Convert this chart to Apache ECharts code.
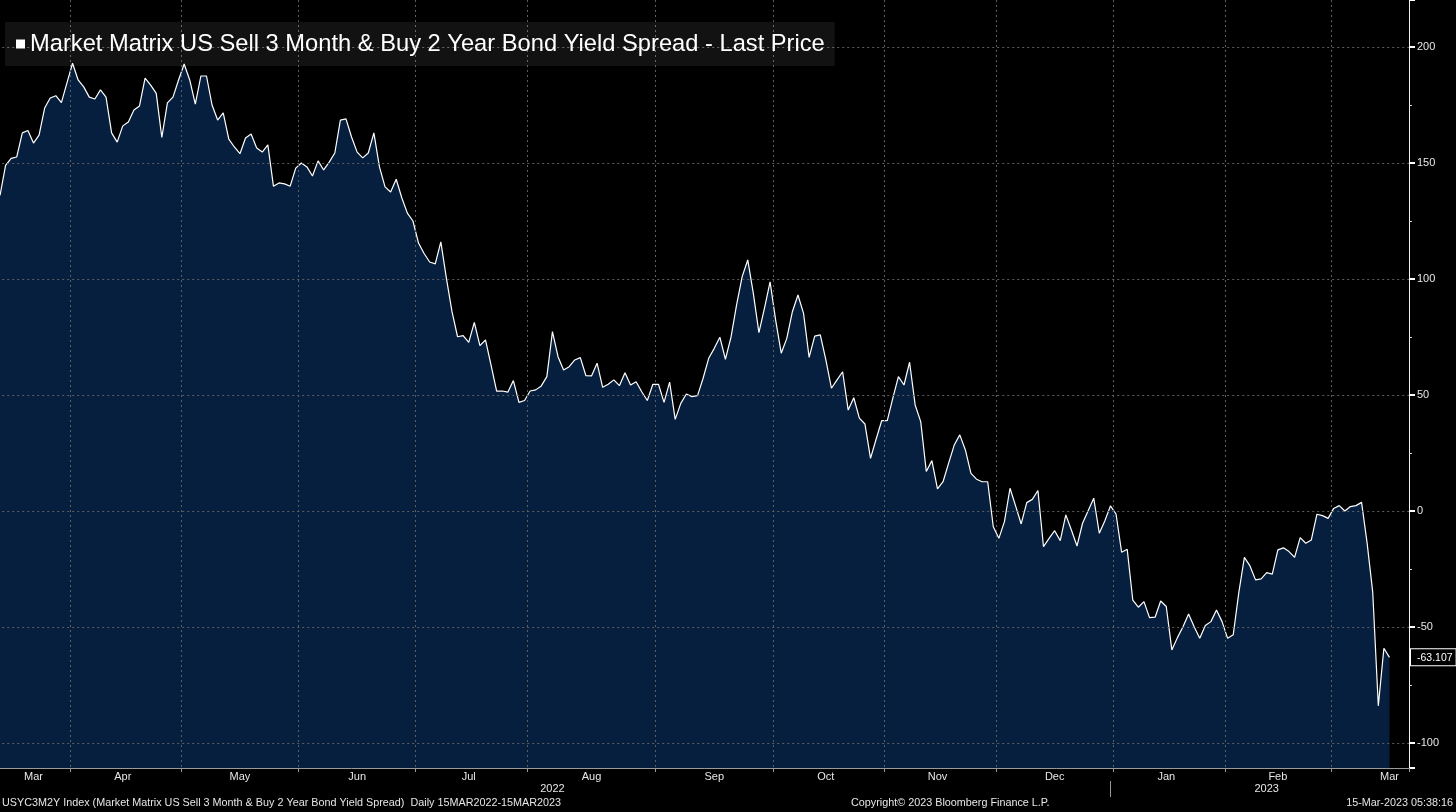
<!DOCTYPE html>
<html><head><meta charset="utf-8">
<script src="https://cdn.jsdelivr.net/npm/echarts@6/dist/echarts.min.js"></script>
<style>html,body{margin:0;padding:0;background:#000;}#c{width:1456px;height:812px;}</style>
</head><body><div id="c"></div>
<script>
const seriesName = 'Market Matrix US Sell 3 Month & Buy 2 Year Bond Yield Spread - Last Price';
const footerLeft = 'USYC3M2Y Index (Market Matrix US Sell 3 Month & Buy 2 Year Bond Yield Spread)  Daily 15MAR2022-15MAR2023';
const footerMid = 'Copyright\u00A9 2023 Bloomberg Finance L.P.';
const footerRight = '15-Mar-2023 05:38:16';

const firstDate = '2022-03-15';
const lastAxisDate = '2023-03-20';
const holidays = ['2022-04-15','2022-05-30','2022-06-20','2022-07-04','2022-09-05','2022-10-10',
  '2022-11-11','2022-11-24','2022-12-26','2023-01-02','2023-01-16','2023-02-20'];

// one value per trading day, 15 Mar 2022 .. 15 Mar 2023 (bp)
const spreadValues = [
  136,149,152,152.6,163,164,158.6,162,173.7,178,
  179,176,184.5,193,185.8,182.8,178.4,177.6,181.5,178.4,
  163,159,166,167.7,172.8,174.6,186.6,183.6,180,161,
  175.9,178.4,185.8,192.7,185.8,175.4,187.5,187.5,175,168.5,
  171.6,160.3,156.9,154,160.8,162.5,156.5,154.7,157.8,140,
  141.4,141,140,147.8,150,148.3,144.4,150.9,147,150.4,
  154.3,168.5,169,161.2,154.7,152.2,154.3,163,148.3,139.7,
  137.5,143,135,128.4,125,115.5,111,107.3,106.5,116,
  100.3,85.9,75.1,75.6,72.7,81.3,71.3,73.7,62.9,51.7,
  51.7,51.2,56.2,46.8,47.6,51.7,52.2,53.9,57.9,77.3,
  66.5,60.8,62.2,65.1,66.1,58.3,58.2,63.7,53.3,54.6,
  56.5,54,59.6,54.3,55.7,51.4,47.6,54.6,54.6,46.8,
  55.5,39.5,46.4,50.4,49.3,49.7,57.2,65.8,70.1,74.9,
  65.4,74.9,88.8,101,108.2,93.8,76.9,87.4,98.8,82.3,
  68,74.4,85.9,93.1,85.2,66.2,75.4,75.9,65.1,52.9,
  56.5,60,43.5,48.8,40,37.5,22.7,30.9,38.9,38.9,
  48.6,57.9,54.3,64.1,45.7,38.5,17,21.7,9.5,12.6,
  20.6,28.4,32.8,26.3,16.2,13.7,12.6,12.6,-6.8,-11.8,
  -4.6,9.8,2.2,-5.6,3.6,5,8.8,-15.4,-11.8,-8.5,
  -12.8,-1.7,-8.2,-15.1,-5.3,0.1,5.5,-9.6,-4.2,2.2,
  -1.3,-17.8,-16.5,-38.4,-41.5,-39.1,-46,-45.8,-38.8,-41.2,
  -59.9,-54.6,-49.9,-44.4,-49.9,-54.9,-49.4,-47.7,-42.7,-47.7,
  -54.9,-53.4,-35.2,-20,-23.7,-29.7,-29.3,-26.6,-27.2,-16.8,
  -15.9,-17.5,-20,-11.5,-13.9,-12.5,-1.4,-2,-3.2,1.1,
  2.3,0,1.9,2.3,3.7,-14,-35,-84,-59.2,-63.107
];

const monthNames = ['Jan','Feb','Mar','Apr','May','Jun','Jul','Aug','Sep','Oct','Nov','Dec'];
const monthLabelDates = ['2022-03-23','2022-04-14','2022-05-16','2022-06-15','2022-07-15','2022-08-16',
  '2022-09-16','2022-10-17','2022-11-15','2022-12-15','2023-01-17','2023-02-14','2023-03-15'];
const yearLabelDates = ['2022-08-05','2023-02-10'];
const yearSeparatorDate = '2022-12-30';

const yMin = -110.8, yMax = 220.26, yStep = 50;

// trading-day categories
function iso(d){ return d.toISOString().slice(0,10); }
const tradingDays = [];
for (let d = new Date(firstDate + 'T00:00:00Z'); iso(d) <= lastAxisDate; d.setUTCDate(d.getUTCDate() + 1)) {
  const wd = d.getUTCDay();
  const s = iso(d);
  if (wd !== 0 && wd !== 6 && holidays.indexOf(s) < 0) tradingDays.push(s);
}
const band = 1409 / (tradingDays.length - 0.5);
const lastValue = spreadValues[spreadValues.length - 1];

const font = "'Liberation Sans', Arial, sans-serif";
const footStyle = {color: '#e6e6e6', fontSize: 10.8, fontWeight: 'normal', fontFamily: font};
const chart = echarts.init(document.getElementById('c'), null, {renderer: 'canvas'});
chart.setOption({
  backgroundColor: '#000',
  animation: false,
  textStyle: {fontFamily: font},
  title: [
    {text: footerLeft, left: 2, top: 798, padding: 0, textStyle: footStyle},
    {text: footerMid, left: 851, top: 798, padding: 0, textStyle: footStyle},
    {text: footerRight, right: 3, top: 798, padding: 0, textStyle: footStyle}
  ],
  legend: {
    show: true, left: 5, top: 22, orient: 'horizontal',
    backgroundColor: 'rgba(255,255,255,0.07)',
    padding: [10, 10, 10, 11],
    itemWidth: 9, itemHeight: 9,
    selectedMode: false,
    textStyle: {color: '#ffffff', fontSize: 23.7, fontFamily: font},
    data: [{name: seriesName, icon: 'rect', itemStyle: {color: '#ffffff'}}]
  },
  axisPointer: {triggerOn: 'none', triggerTooltip: false},
  grid: {left: -band / 2, right: 47, top: 0, bottom: 44, containLabel: false, outerBoundsMode: 'none'},
  xAxis: [{
    type: 'category', data: tradingDays, boundaryGap: true, z: 3,
    axisLine: {show: true, onZero: false, lineStyle: {color: '#9a9a9a', width: 1}},
    axisTick: {show: true, length: 4, lineStyle: {color: '#9a9a9a'},
      interval: (i, v) => i > 0 && v.slice(0,7) !== tradingDays[i-1].slice(0,7)},
    splitLine: {show: true, lineStyle: {color: '#5e5e5e', width: 1, type: [2, 3]},
      interval: (i, v) => i > 0 && v.slice(0,7) !== tradingDays[i-1].slice(0,7)},
    axisLabel: {show: true, color: '#e6e6e6', fontSize: 11, margin: 3, fontFamily: font,
      interval: (i, v) => monthLabelDates.indexOf(v) >= 0,
      formatter: v => monthNames[parseInt(v.slice(5,7), 10) - 1]}
  }, {
    type: 'category', data: tradingDays, boundaryGap: true, position: 'bottom', offset: 13,
    axisLine: {show: false, onZero: false},
    axisTick: {show: true, alignWithLabel: true, length: 16, lineStyle: {color: '#9a9a9a'},
      interval: (i, v) => v === yearSeparatorDate},
    splitLine: {show: false},
    axisLabel: {show: true, color: '#e6e6e6', fontSize: 11, margin: 2, fontFamily: font,
      interval: (i, v) => yearLabelDates.indexOf(v) >= 0,
      formatter: v => v.slice(0,4)}
  }],
  yAxis: {
    type: 'value', position: 'right', min: yMin, max: yMax,
    minInterval: yStep, maxInterval: yStep, z: 3,
    axisLine: {show: true, onZero: false, lineStyle: {color: '#f0f0f0', width: 1}},
    axisTick: {show: true, length: 6, lineStyle: {color: '#ffffff', width: 2}},
    minorTick: {show: true, splitNumber: 2, length: 3, lineStyle: {color: '#e0e0e0', width: 1}},
    splitLine: {show: true, showMinLine: false, showMaxLine: false, lineStyle: {color: '#5e5e5e', width: 1, type: [2, 3]}},
    axisLabel: {show: true, color: '#e6e6e6', fontSize: 11, margin: 8, fontFamily: font,
      showMinLabel: false, showMaxLabel: false},
    axisPointer: {
      show: true, type: 'line', value: lastValue, status: 'show', snap: false, triggerTooltip: false,
      lineStyle: {opacity: 0, width: 0},
      label: {show: true, formatter: () => String(lastValue), margin: 2,
        color: '#ffffff', fontSize: 10.5, fontFamily: font, backgroundColor: '#000',
        borderColor: '#ffffff', borderWidth: 1, borderRadius: 0, padding: [3, 3, 2, 6]}
    }
  },
  series: [{
    name: seriesName, type: 'line', data: spreadValues, xAxisIndex: 0,
    showSymbol: false, symbol: 'none', z: 2,
    lineStyle: {color: '#ffffff', width: 1.2},
    itemStyle: {color: '#ffffff'},
    areaStyle: {color: '#071f3f', opacity: 1, origin: 'start'}
  }]
});
</script></body></html>
